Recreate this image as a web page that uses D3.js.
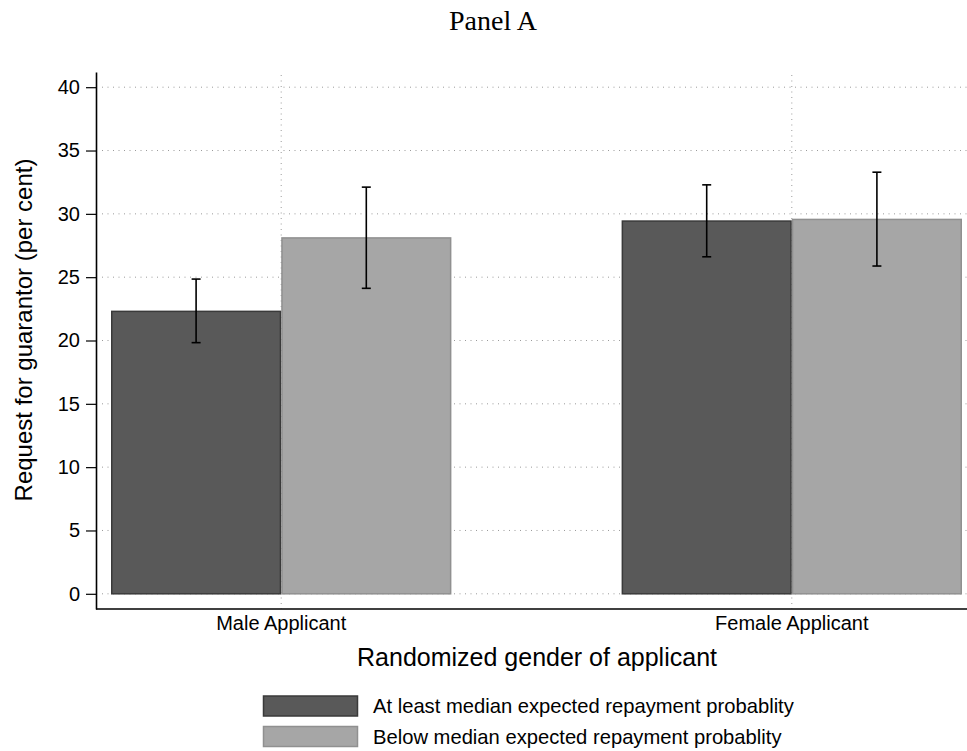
<!DOCTYPE html>
<html>
<head>
<meta charset="utf-8">
<script src="https://cdn.jsdelivr.net/npm/d3@7"></script>
<style>
  html, body { margin: 0; padding: 0; background: #fff; }
  svg { display: block; }
  text { font-family: "Liberation Sans", Arial, Helvetica, sans-serif; fill: #000; }
</style>
</head>
<body>
<svg id="chart" width="967" height="751"></svg>
<script>
// ---- data ----
const categories = ["Male Applicant", "Female Applicant"];
const seriesNames = [
  "At least median expected repayment probablity",
  "Below median expected repayment probablity"
];
const highMeans = [22.3, 29.43];
const highLo    = [19.83, 26.61];
const highHi    = [24.85, 32.29];
const lowMeans  = [28.1, 29.56];
const lowLo     = [24.12, 25.88];
const lowHi     = [32.11, 33.29];
const yTicks    = [0, 5, 10, 15, 20, 25, 30, 35, 40];
const titleText = "Panel A";
const yTitle = "Request for guarantor (per cent)";
const xTitle = "Randomized gender of applicant";

// ---- layout ----
const W = 967, H = 751;
const plot = { left: 96, right: 967, top: 72, bottom: 609 };
const barColors = ["#595959", "#a6a6a6"];
const barStrokes = ["#3a3a3a", "#909090"];

const svg = d3.select("#chart");

const y = d3.scaleLinear().domain([-1.2, 41.2]).range([plot.bottom, plot.top]);
const x = d3.scaleBand().domain(categories).range([111, 962]).paddingInner(1/3).paddingOuter(0);
const xs = d3.scaleBand().domain([0, 1]).range([0, x.bandwidth()]).padding(0);

const series = [
  { name: seriesNames[0], means: highMeans, lo: highLo, hi: highHi },
  { name: seriesNames[1], means: lowMeans, lo: lowLo, hi: lowHi }
];

// grid lines
const grid = svg.append("g").attr("stroke", "#9a9a9a").attr("stroke-width", 1)
  .attr("stroke-dasharray", "1,4.5");
grid.selectAll("line.h").data(yTicks).join("line")
  .attr("x1", plot.left + 6).attr("x2", plot.right)
  .attr("y1", d => y(d)).attr("y2", d => y(d));
grid.selectAll("line.v").data(categories).join("line")
  .attr("x1", d => x(d) + x.bandwidth()/2).attr("x2", d => x(d) + x.bandwidth()/2)
  .attr("y1", plot.top + 3).attr("y2", plot.bottom);

// bars
series.forEach((s, si) => {
  const g = svg.append("g");
  g.selectAll("rect").data(categories).join("rect")
    .attr("x", (c) => x(c) + xs(si) + 0.75)
    .attr("width", xs.bandwidth() - 1.5)
    .attr("y", (c, i) => y(s.means[i]))
    .attr("height", (c, i) => y(0) - y(s.means[i]))
    .attr("fill", barColors[si])
    .attr("stroke", barStrokes[si])
    .attr("stroke-width", 1.5);
});

// error bars
series.forEach((s, si) => {
  const g = svg.append("g").attr("stroke", "#000").attr("stroke-width", 1.6);
  categories.forEach((c, i) => {
    const cx = x(c) + xs(si) + xs.bandwidth()/2;
    g.append("line").attr("x1", cx).attr("x2", cx).attr("y1", y(s.lo[i])).attr("y2", y(s.hi[i]));
    g.append("line").attr("x1", cx - 4.5).attr("x2", cx + 4.5).attr("y1", y(s.lo[i])).attr("y2", y(s.lo[i]));
    g.append("line").attr("x1", cx - 4.5).attr("x2", cx + 4.5).attr("y1", y(s.hi[i])).attr("y2", y(s.hi[i]));
  });
});

// y axis
const yAxis = svg.append("g").attr("transform", `translate(${plot.left},0)`)
  .call(d3.axisLeft(y).tickValues(yTicks).tickSize(10).tickSizeOuter(0).tickPadding(6));
yAxis.select(".domain").attr("stroke", "#000").attr("stroke-width", 1.6);
yAxis.selectAll(".tick line").attr("stroke", "#000").attr("stroke-width", 1.2);
yAxis.selectAll(".tick text").attr("font-size", 20)
  .attr("font-family", "Liberation Sans, Arial, sans-serif").attr("fill", "#000");

// x axis line
svg.append("line").attr("x1", plot.left).attr("x2", plot.right)
  .attr("y1", plot.bottom).attr("y2", plot.bottom)
  .attr("stroke", "#000").attr("stroke-width", 1.6);
const xAxis = svg.append("g").attr("transform", `translate(0,${plot.bottom})`)
  .call(d3.axisBottom(x).tickSize(0).tickPadding(0));
xAxis.select(".domain").remove();
xAxis.selectAll(".tick text").attr("font-size", 20).attr("dy", null).attr("y", 21)
  .attr("font-family", "Liberation Sans, Arial, sans-serif").attr("fill", "#000");

// titles
svg.append("text").attr("x", 493).attr("y", 30).attr("text-anchor", "middle")
  .style("font-family", "'Liberation Serif', 'DejaVu Serif', serif").attr("font-size", 28)
  .text(titleText);
svg.append("text").attr("transform", "translate(32,330) rotate(-90)").attr("text-anchor", "middle")
  .attr("font-size", 24).text(yTitle);
svg.append("text").attr("x", 537).attr("y", 666).attr("text-anchor", "middle")
  .attr("font-size", 25).text(xTitle);

// legend
const legend = svg.append("g");
series.forEach((s, si) => {
  const ly = 696 + si * 30.5;
  legend.append("rect").attr("x", 263.5).attr("y", ly).attr("width", 94).attr("height", 20)
    .attr("fill", barColors[si]).attr("stroke", barStrokes[si]).attr("stroke-width", 1.5);
  legend.append("text").attr("x", 373).attr("y", ly + 17).attr("font-size", 20.2).text(s.name);
});
</script>
</body>
</html>
